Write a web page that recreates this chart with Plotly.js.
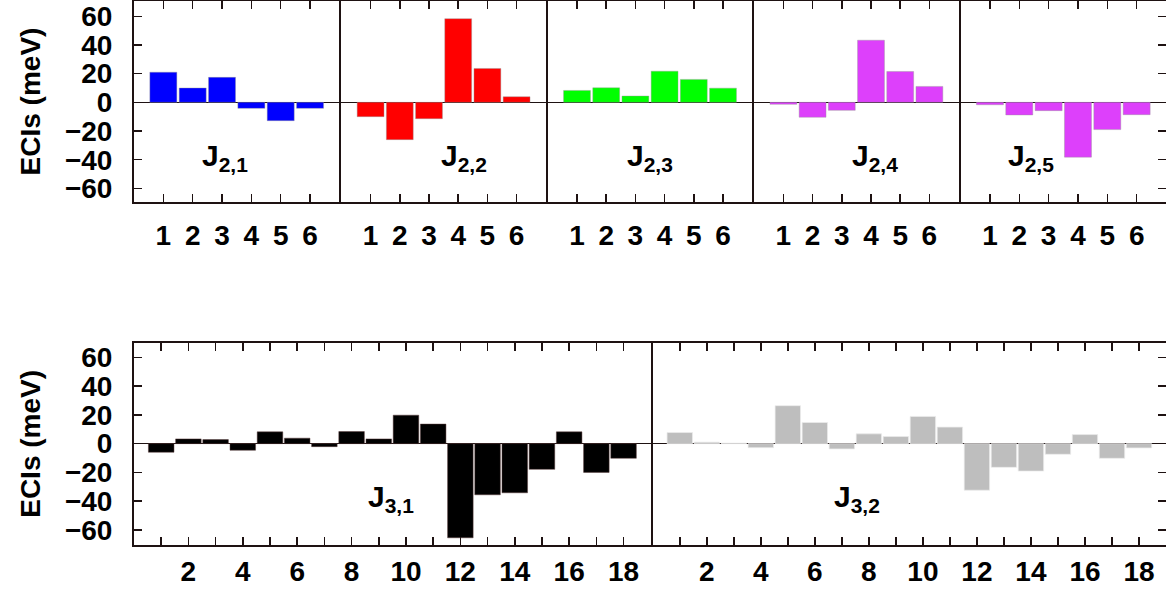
<!DOCTYPE html>
<html><head><meta charset="utf-8">
<script src="https://cdn.plot.ly/plotly-3.0.1.min.js"></script>
<style>body{margin:0;background:#fff}#c{width:1166px;height:596px}</style>
</head><body><div id="c"></div>
<script>
const topIdx = [1,2,3,4,5,6];
const J21 = [21, 10, 17.4, -4.2, -12.8, -4.2];
const J22 = [-10, -26, -11.4, 58.3, 23.6, 3.9];
const J23 = [8.3, 10.1, 4.4, 21.7, 16, 9.9];
const J24 = [-1.4, -10.4, -5.6, 43.3, 21.5, 11.1];
const J25 = [-1.7, -8.8, -5.8, -38.2, -19, -8.6];
const botIdx = [1,2,3,4,5,6,7,8,9,10,11,12,13,14,15,16,17,18];
const J31 = [-6, 3.3, 2.8, -4.6, 8.2, 3.8, -2.1, 8.4, 3.3, 19.8, 13.6, -65.5, -35.6, -34.2, -17.9, 8.2, -20, -10.2];
const J32 = [7.7, 1.0, 0.3, -2.8, 26.4, 14.7, -3.7, 6.8, 4.9, 18.9, 11.5, -32.4, -16.5, -19.1, -7.4, 6.3, -10.2, -3];
const topLabels = ["J<sub>2,1</sub>","J<sub>2,2</sub>","J<sub>2,3</sub>","J<sub>2,4</sub>","J<sub>2,5</sub>"];
const botLabels = ["J<sub>3,1</sub>","J<sub>3,2</sub>"];
const yTickVals = [-60,-40,-20,0,20,40,60];
const botTickVals = [2,4,6,8,10,12,14,16,18];

const topSeries = [J21, J22, J23, J24, J25];
const topColors = ["#0000ff","#ff0000","#00ff00","#dd40fb","#dd40fb"];
const botSeries = [J31, J32];
const botColors = ["#000000","#bebebe"];
const labelX = [3.1, 4.2, 3.5, 4.15, 2.4];
const botLabelX = [9.45, 7.55];

const LC = "#1e1212";
const FAM = "Liberation Sans, Arial, sans-serif";
const PW = 1032, GAP = 2 / PW;
const data = [];
const layout = {
  width: 1166, height: 596,
  margin: {l: 134, r: 0, t: 0, b: 0},
  paper_bgcolor: "#fff", plot_bgcolor: "#fff",
  showlegend: false,
  font: {family: FAM, size: 27, color: "#000", weight: "bold"},
  annotations: []
};
const topDom = [0.661, 0.998];
const botDom = [0.0856, 0.4245];
function xax(domain, anchor, range, standoff) {
  return {domain, anchor, range,
    ticks: "inside", ticklen: 8, tickwidth: 1.5, tickcolor: LC,
    showline: true, linewidth: 2, linecolor: LC, mirror: "ticks",
    showgrid: false, zeroline: false, fixedrange: true,
    tickfont: {family: FAM, size: 28, color: "#000", weight: "bold"}, ticklabelstandoff: standoff};
}
function yax(domain, anchor, pos, range) {
  const a = {domain, anchor, range, tickmode: "array", tickvals: yTickVals,
    showline: true, linewidth: 2, linecolor: LC, mirror: true,
    showgrid: false, zeroline: true, zerolinecolor: LC, zerolinewidth: 1.2,
    fixedrange: true, tickfont: {family: FAM, size: 28, color: "#000", weight: "bold"}};
  if (pos === "left") { Object.assign(a, {ticks: "inside", ticklen: 8, tickwidth: 1.5, tickcolor: LC, showticklabels: true, ticklabelstandoff: 14}); }
  else if (pos === "right") { Object.assign(a, {side: "right", ticks: "inside", ticklen: 8, tickwidth: 1.5, tickcolor: LC, showticklabels: false}); }
  else { Object.assign(a, {ticks: "", showticklabels: false}); }
  return a;
}
const topRange = [-69.5, 70.5];
const botRange = [-70.5, 70];
for (let i = 0; i < 5; i++) {
  const n = i + 1;
  const xs = n === 1 ? "x" : "x" + n, ys = n === 1 ? "y" : "y" + n;
  data.push({type: "bar", x: topIdx, y: topSeries[i], xaxis: xs, yaxis: ys, width: 0.92,
    marker: {color: topColors[i], line: {color: "rgba(150,150,150,0.5)", width: 0.8}}, hoverinfo: "skip"});
  const key = n === 1 ? "" : String(n);
  const d0 = i === 0 ? 0 : i / 5 + GAP * 0.5, d1 = i === 4 ? 1 : (i + 1) / 5 - GAP * 0.5;
  const ax = xax([d0, d1], ys, [0, 7], 7);
  Object.assign(ax, {tickmode: "array", tickvals: topIdx, ticktext: topIdx.map(String)});
  layout["xaxis" + key] = ax;
  layout["yaxis" + key] = yax(topDom, xs, i === 0 ? "left" : (i === 4 ? "right" : "none"), topRange);
  layout.annotations.push({xref: xs, yref: ys, x: labelX[i], y: -38.5, text: topLabels[i], showarrow: false,
    xanchor: "center", yanchor: "middle", font: {family: FAM, size: 30, color: "#000", weight: "bold"}});
}
for (let j = 0; j < 2; j++) {
  const n = 6 + j;
  const xs = "x" + n, ys = "y" + n;
  data.push({type: "bar", x: botIdx, y: botSeries[j], xaxis: xs, yaxis: ys, width: 0.94,
    marker: {color: botColors[j], line: {color: j === 0 ? "rgba(90,60,60,0.6)" : "rgba(235,235,235,0.9)", width: 0.8}}, hoverinfo: "skip"});
  const ax = xax(j === 0 ? [0, 0.5017 - GAP * 0.5] : [0.5017 + GAP * 0.5, 1], ys, [0, 19], 0);
  Object.assign(ax, {tickmode: "array", tickvals: botTickVals,
    minor: {tickmode: "linear", tick0: 1, dtick: 1, ticks: "inside", ticklen: 8, tickwidth: 1.5, tickcolor: LC}});
  layout["xaxis" + n] = ax;
  layout["yaxis" + n] = yax(botDom, xs, j === 0 ? "left" : "right", botRange);
  layout.annotations.push({xref: xs, yref: ys, x: botLabelX[j], y: -38, text: botLabels[j], showarrow: false,
    xanchor: "center", yanchor: "middle", font: {family: FAM, size: 30, color: "#000", weight: "bold"}});
}
[topDom, botDom].forEach(d => {
  layout.annotations.push({xref: "paper", yref: "paper", x: -0.1, y: (d[0] + d[1]) / 2,
    text: "ECIs (meV)", textangle: -90, showarrow: false, xanchor: "center", yanchor: "middle",
    font: {family: FAM, size: 28, color: "#000", weight: "bold"}});
});
Plotly.newPlot("c", data, layout, {displayModeBar: false, staticPlot: true});
</script>
</body></html>
